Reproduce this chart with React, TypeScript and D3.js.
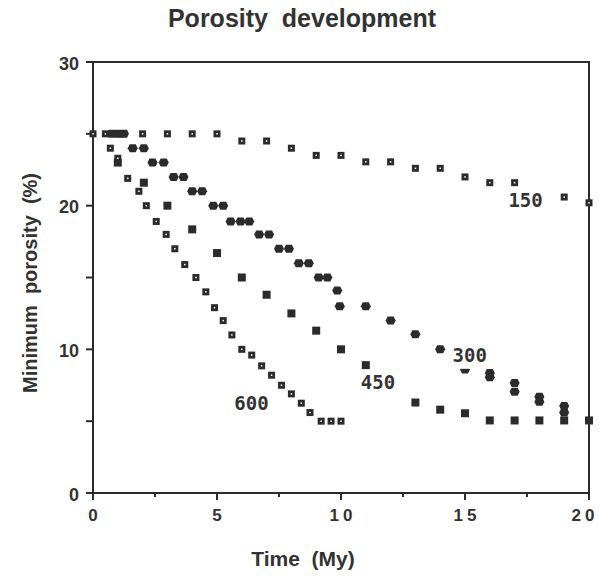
import React from "react";
import * as d3 from "d3";

// ---- data ----
const xTicks = [0, 2.5, 5, 7.5, 10, 12.5, 15, 17.5, 20];
const xTickLabels = ["0", "5", "10", "15", "20"];
const yTicks = [0, 5, 10, 15, 20, 25, 30];
const yTickLabels = ["0", "10", "20", "30"];

const s150x = [0, 0.5, 1.1, 2, 3, 4, 5, 6, 7, 8, 9, 10, 11, 12, 13, 14, 15, 16, 17, 19, 20];
const s150y = [25, 25, 25, 25, 25, 25, 25, 24.5, 24.5, 24, 23.5, 23.5, 23.05, 23.05, 22.6, 22.6, 22, 21.6, 21.6, 20.6, 20.2];

const s300x = [0.75, 1.0, 1.25, 1.6, 2.05, 2.4, 2.85, 3.25, 3.65, 4.0, 4.4, 4.85, 5.25, 5.55, 5.95, 6.3, 6.7, 7.1, 7.5, 7.9, 8.3, 8.7, 9.1, 9.45, 9.85, 9.95, 11, 12, 13, 14, 15, 16, 16, 17, 17, 18, 18, 19, 19];
const s300y = [25, 25, 25, 24, 24, 23, 23, 22, 22, 21, 21, 20, 20, 18.9, 18.9, 18.9, 18, 18, 17, 17, 16, 16, 15, 15, 14.1, 13, 13, 12, 11.05, 10, 8.6, 8.35, 8.05, 7.65, 7.05, 6.7, 6.35, 6.05, 5.6];

const s450x = [1, 2.05, 3, 4, 5, 6, 7, 8, 9, 10, 11, 13, 14, 15, 16, 17, 18, 19, 20];
const s450y = [23.0, 21.6, 20, 18.35, 16.7, 15, 13.8, 12.5, 11.3, 10, 8.9, 6.3, 5.8, 5.55, 5.05, 5.05, 5.05, 5.05, 5.05];

const s600x = [0.7, 1.0, 1.4, 1.85, 2.15, 2.55, 2.95, 3.3, 3.7, 4.15, 4.55, 4.9, 5.25, 5.6, 6.0, 6.4, 6.8, 7.2, 7.6, 8.0, 8.4, 8.75, 9.2, 9.6, 10];
const s600y = [24.0, 23.3, 21.9, 21.0, 20.0, 18.9, 18.0, 17.0, 15.9, 15.0, 14.0, 12.9, 12.0, 11.0, 10.0, 9.6, 8.85, 8.2, 7.5, 6.9, 6.25, 5.6, 5.0, 5.0, 5.0];

const labelText = ["150", "300", "450", "600"];
const labelX = [16.75, 14.5, 10.8, 5.7];
const labelY = [20.0, 9.2, 7.3, 5.85];

const W = 599;
const H = 579;
const INK = "#2b2b2b";

export default function App() {
  const x = d3.scaleLinear().domain([0, 20]).range([93, 589]);
  const y = d3.scaleLinear().domain([0, 30]).range([493, 62]);

  const zip = (xs: number[], ys: number[]) => xs.map((v, i) => [v, ys[i]] as [number, number]);

  const dotSquare = (pts: [number, number][], key: string) =>
    pts.map(([a, b], i) => (
      <g key={key + i}>
        <rect x={x(a) - 3.5} y={y(b) - 3.5} width={7} height={7} fill={INK} />
        <rect x={x(a) - 0.75} y={y(b) - 0.75} width={1.5} height={1.5} fill="#fff" />
      </g>
    ));

  const diamondPath = (cx: number, cy: number) =>
    `M${cx - 5},${cy} L${cx - 3},${cy - 4} L${cx + 3},${cy - 4} L${cx + 5},${cy} L${cx + 3},${cy + 4} L${cx - 3},${cy + 4} Z`;

  const font = "'Liberation Sans', Arial, sans-serif";

  return (
    <svg width={W} height={H} style={{ position: "absolute", left: 0, top: 0, background: "#fff" }}>
      {/* title */}
      <text x={302} y={27} textAnchor="middle" fontFamily={font} fontWeight="bold" fontSize={25} fill="#333" xmlSpace="preserve">
        {"Porosity  development"}
      </text>

      {/* frame */}
      <rect x={x(0)} y={y(30)} width={x(20) - x(0)} height={y(0) - y(30)} fill="none" stroke={INK} strokeWidth={2} />

      {/* x ticks */}
      {xTicks.map((t, i) => (
        <line key={"xt" + i} x1={x(t)} x2={x(t)} y1={y(0)} y2={y(0) + (t % 5 === 0 ? 7 : 4)} stroke={INK} strokeWidth={2} />
      ))}
      {xTickLabels.map((l, i) => (
        <text key={"xl" + i} x={Math.min(x(+l) + (l.length > 1 ? 2 : 0), W - 14)} y={521} textAnchor="middle" fontFamily={font} fontWeight="bold" fontSize={17} letterSpacing={l.length > 1 ? 4 : 0} fill="#333">
          {l}
        </text>
      ))}

      {/* y ticks */}
      {yTicks.map((t, i) => (
        <line key={"yt" + i} x1={x(0) - 7} x2={x(0)} y1={y(t)} y2={y(t)} stroke={INK} strokeWidth={2} />
      ))}
      {yTickLabels.map((l, i) => (
        <text key={"yl" + i} x={79} y={y(+l) + 7.5} textAnchor="end" fontFamily={font} fontWeight="bold" fontSize={18} fill="#333">
          {l}
        </text>
      ))}

      {/* axis titles */}
      <text x={303} y={566} textAnchor="middle" fontFamily={font} fontWeight="bold" fontSize={21} fill="#333" xmlSpace="preserve">
        {"Time  (My)"}
      </text>
      <text transform={`translate(37,283) rotate(-90)`} textAnchor="middle" fontFamily={font} fontWeight="bold" fontSize={20} fill="#333" xmlSpace="preserve">
        {"Minimum  porosity  (%)"}
      </text>

      {/* series */}
      {dotSquare(zip(s150x, s150y), "a")}
      {zip(s450x, s450y).map(([a, b], i) => (
        <rect key={"c" + i} x={x(a) - 4} y={y(b) - 4} width={8} height={8} fill={INK} />
      ))}
      {dotSquare(zip(s600x, s600y), "d")}
      {zip(s300x, s300y).map(([a, b], i) => (
        <path key={"b" + i} d={diamondPath(x(a), y(b))} fill={INK} />
      ))}

      {/* series labels */}
      {labelText.map((t, i) => (
        <g key={"lab" + i}>
          <rect x={x(labelX[i]) - 1} y={y(labelY[i]) - 16} width={40} height={24} fill="#fff" />
          <text x={x(labelX[i])} y={y(labelY[i]) + 1} fontFamily="'DejaVu Sans Mono', monospace" fontWeight="bold" fontSize={19} fill="#333">
            {t}
          </text>
        </g>
      ))}
    </svg>
  );
}
